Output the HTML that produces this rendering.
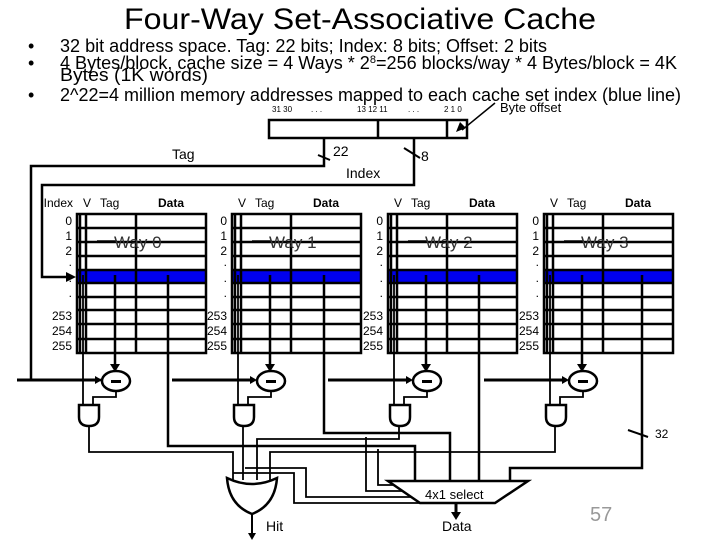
<!DOCTYPE html>
<html><head><meta charset="utf-8"><style>
html,body{margin:0;padding:0;background:#fff;width:720px;height:540px;overflow:hidden}
svg{display:block}
text{font-family:"Liberation Sans",sans-serif}
</style></head><body>
<svg width="720" height="540" viewBox="0 0 720 540" xmlns="http://www.w3.org/2000/svg">
<text x="124" y="29" font-size="30" textLength="472" lengthAdjust="spacingAndGlyphs">Four-Way Set-Associative Cache</text>
<g font-size="18">
<text x="28" y="52">•</text><text x="28" y="69">•</text><text x="28" y="101">•</text>
<text x="60" y="52" textLength="487" lengthAdjust="spacingAndGlyphs">32 bit address space. Tag: 22 bits; Index: 8 bits; Offset: 2 bits</text>
<text x="60" y="69" textLength="617" lengthAdjust="spacingAndGlyphs">4 Bytes/block, cache size = 4 Ways * 2<tspan font-size="11" dy="-6">8</tspan><tspan dy="6">=256 blocks/way * 4 Bytes/block = 4K</tspan></text>
<text x="60" y="81" textLength="148" lengthAdjust="spacingAndGlyphs">Bytes (1K words)</text>
<text x="60" y="101" textLength="621" lengthAdjust="spacingAndGlyphs">2^22=4 million memory addresses mapped to each cache set index (blue line)</text>
</g>
<g font-size="8">
<text x="272" y="112">31 30</text><text x="311" y="112">. . .</text><text x="357" y="112">13 12 11</text><text x="408" y="112">. . .</text><text x="444" y="112">2 1 0</text>
</g>
<text x="500" y="112" font-size="13">Byte offset</text>
<text x="73" y="207" font-size="12" text-anchor="end">Index</text>
<g stroke="#000" fill="none" stroke-width="2.5">
<rect x="269" y="120" width="198" height="18" fill="#fff"/>
<line x1="378" y1="120" x2="378" y2="138"/><line x1="447" y1="120" x2="447" y2="138"/>
<polyline points="324,138 324,166 31,166 31,380 108,380"/>
<polyline points="414,138 414,185 42,185 42,277 66,277"/>
</g>
<path d="M66,272 L76,277 L66,282 z"/>
<line x1="495" y1="103" x2="462" y2="130" stroke="#000" stroke-width="1.5"/>
<path d="M456,132 L460,122 L466,128 z"/>
<line x1="318" y1="155" x2="330" y2="160" stroke="#000" stroke-width="2"/>
<line x1="404" y1="148" x2="420" y2="158" stroke="#000" stroke-width="2"/>
<text x="172" y="159" font-size="14">Tag</text>
<text x="333" y="156" font-size="14">22</text>
<text x="421" y="161" font-size="14">8</text>
<text x="346" y="178" font-size="14">Index</text>
<g id="ways"></g>
<g stroke="#000" fill="none" stroke-width="2.5">
<polyline points="168,353 168,446 415,446 415,481"/>
<polyline points="324,353 324,433 450,433 450,481"/>
<polyline points="479,353 479,481"/>
<polyline points="642,353 642,468 510,468 510,481"/>
</g>
<line x1="628" y1="430" x2="648" y2="437" stroke="#000" stroke-width="2"/>
<text x="655" y="438" font-size="12">32</text>
<g stroke="#000" fill="none" stroke-width="1.8">
<polyline points="89,426 89,452 233,452 233,480"/>
<polyline points="243,426 243,480"/>
<polyline points="399,426 399,439 257,439 257,480"/>
<polyline points="555,426 555,452 270,452 270,480"/>
<polyline points="233,473 294,473 294,503 420,503"/>
<polyline points="245,468 306,468 306,497 413,497"/>
<polyline points="366,437 366,491 404,491"/>
<polyline points="378,449 378,485 396,485"/>
</g>
<path d="M227,478 Q252,490 277,478 Q275,505 252,514 Q229,505 227,478 z" fill="#fff" stroke="#000" stroke-width="2.5"/>
<line x1="252" y1="514" x2="252" y2="534" stroke="#000" stroke-width="2"/>
<path d="M248,533 L252,540 L256,533 z"/>
<path d="M388,481 L528,481 L495,503 L420,503 z" fill="#fff" stroke="#000" stroke-width="2.5"/>
<text x="425" y="499" font-size="13">4x1 select</text>
<line x1="456" y1="503" x2="456" y2="514" stroke="#000" stroke-width="3"/>
<path d="M451,512 L456,520 L461,512 z"/>
<text x="266" y="531" font-size="14">Hit</text>
<text x="442" y="531" font-size="14">Data</text>
<text x="590" y="521" font-size="20" fill="#999" font-family="Liberation Serif,serif">57</text>
</svg>
<script>
(function(){
var g=document.getElementById('ways');var h='';
var X=[77,232,388,544],D=[91,92,91,98];
var rows=[214,228,242,256,270,283,297,310,324,339,353];
for(var i=0;i<4;i++){var x=X[i],w=129;
h+='<rect x="'+x+'" y="270" width="'+w+'" height="13" fill="#0000ee"/>';
h+='<g stroke="#000" stroke-width="2.5" fill="none"><rect x="'+x+'" y="214" width="'+w+'" height="139"/>';
for(var r=1;r<rows.length-1;r++)h+='<line x1="'+x+'" y1="'+rows[r]+'" x2="'+(x+w)+'" y2="'+rows[r]+'"/>';
h+='<line x1="'+(x+3)+'" y1="214" x2="'+(x+3)+'" y2="353"/><line x1="'+(x+9)+'" y1="214" x2="'+(x+9)+'" y2="353"/><line x1="'+(x+59)+'" y1="214" x2="'+(x+59)+'" y2="353"/>';
h+='<line x1="'+(x+6)+'" y1="275" x2="'+(x+6)+'" y2="410" stroke-width="1.8"/>';
h+='<line x1="'+(x+38)+'" y1="275" x2="'+(x+38)+'" y2="366"/>';
h+='<line x1="'+(x+D[i])+'" y1="275" x2="'+(x+D[i])+'" y2="353"/>';
h+='<polyline stroke-width="1.8" points="'+(x+39)+',391 '+(x+39)+',397 '+(x+16)+',397 '+(x+16)+',406"/>';
h+='</g>';
h+='<path d="M'+(x+33)+',364 L'+(x+38)+',372 L'+(x+43)+',364 z"/>';
h+='<path d="M'+(x+18)+',376 L'+(x+25)+',380 L'+(x+18)+',384 z"/>';
h+='<line x1="'+(x-60)+'" y1="380" x2="'+(x+20)+'" y2="380" stroke="#000" stroke-width="3"/>';
h+='<ellipse cx="'+(x+39)+'" cy="381" rx="14" ry="10" fill="#fff" stroke="#000" stroke-width="2.5"/>';
h+='<rect x="'+(x+34)+'" y="380" width="10" height="3"/>';
h+='<path d="M'+(x+2)+',405 L'+(x+22)+',405 L'+(x+22)+',417 Q'+(x+22)+',426 '+(x+12)+',426 Q'+(x+2)+',426 '+(x+2)+',417 z" fill="#fff" stroke="#000" stroke-width="2.5"/>';
h+='<g font-size="12"><text x="'+(x+6)+'" y="207">V</text><text x="'+(x+23)+'" y="207">Tag</text><text x="'+(x+81)+'" y="207" font-weight="bold">Data</text>';
var L=['0','1','2','.','.','.','253','254','255'],Y=[225,240,255,266,282,297,320,335,350];
for(var k=0;k<9;k++)h+='<text x="'+(x-5)+'" y="'+Y[k]+'" text-anchor="end">'+L[k]+'</text>';
h+='</g>';
h+='<line x1="'+(x+20)+'" y1="241" x2="'+(x+40)+'" y2="241" stroke="#000" stroke-width="1.5"/>';
h+='<text x="'+(x+37)+'" y="248" font-size="17" fill="#333">Way '+i+'</text>';
}
g.innerHTML=h;
})();
</script>
</body></html>
